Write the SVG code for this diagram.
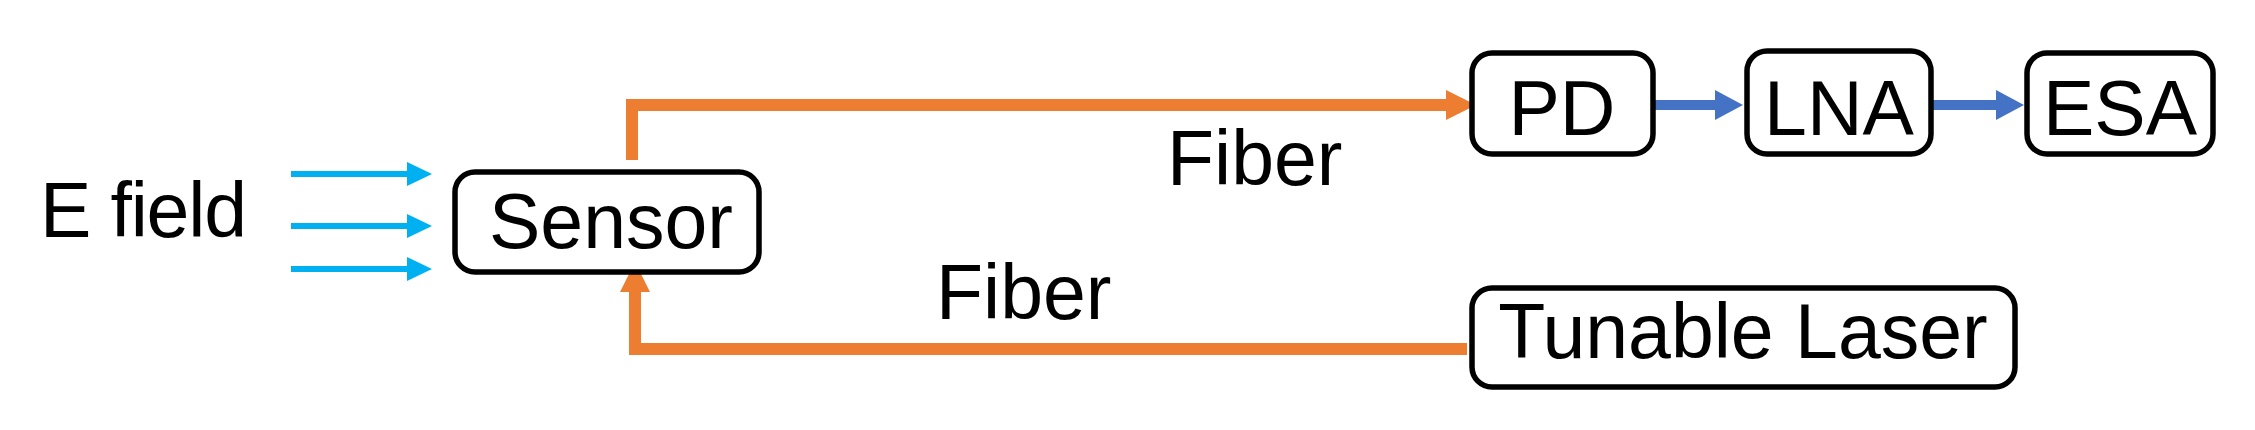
<svg xmlns="http://www.w3.org/2000/svg" width="2255" height="430" viewBox="0 0 2255 430">
<style>
.box{fill:#fff;stroke:#000;stroke-width:5.5}
.t{font-family:"Liberation Sans",Arial,sans-serif;font-size:77px;fill:#000}
.or{fill:none;stroke:#ED7D31;stroke-width:12}
.bl{fill:none;stroke:#4472C4;stroke-width:10}
.cy{fill:none;stroke:#00B0F0;stroke-width:6}
</style>
<defs>
<marker id="ao" markerUnits="userSpaceOnUse" markerWidth="30" markerHeight="30" refX="15" refY="15" orient="auto"><path d="M0,0 L30,15 L0,30 z" fill="#ED7D31"/></marker>
<marker id="ab" markerUnits="userSpaceOnUse" markerWidth="28" markerHeight="30" refX="14" refY="15" orient="auto"><path d="M0,0 L28,15 L0,30 z" fill="#4472C4"/></marker>
<marker id="ac" markerUnits="userSpaceOnUse" markerWidth="25" markerHeight="24" refX="12" refY="12" orient="auto"><path d="M0,0 L25,12 L0,24 z" fill="#00B0F0"/></marker>
</defs>
<rect width="2255" height="430" fill="#fff"/>
<g id="connectors">
<path class="cy" d="M291,174 H419" marker-end="url(#ac)"/>
<path class="cy" d="M291,226 H419" marker-end="url(#ac)"/>
<path class="cy" d="M291,269 H419" marker-end="url(#ac)"/>
<path class="or" d="M632,160 V105 H1461" marker-end="url(#ao)"/>
<path class="or" d="M1467,349 H635 V277" marker-end="url(#ao)"/>
<path class="bl" d="M1654,105 H1729" marker-end="url(#ab)"/>
<path class="bl" d="M1932,105 H2010" marker-end="url(#ab)"/>
<text class="t" x="1167" y="185">Fiber</text>
<text class="t" x="936" y="319">Fiber</text>
</g>
<g id="efield"><text class="t" x="40" y="237" textLength="207">E field</text></g>
<g id="sensor"><rect class="box" x="455" y="172" width="304" height="100" rx="20"/><text class="t" x="611" y="248" text-anchor="middle">Sensor</text></g>
<g id="pd"><rect class="box" x="1472" y="53" width="181" height="101" rx="20"/><text class="t" x="1562" y="135" text-anchor="middle">PD</text></g>
<g id="lna"><rect class="box" x="1747" y="51" width="184" height="103" rx="20"/><text class="t" x="1839" y="135" text-anchor="middle">LNA</text></g>
<g id="esa"><rect class="box" x="2027" y="53" width="186" height="101" rx="20"/><text class="t" x="2120" y="135" text-anchor="middle">ESA</text></g>
<g id="laser"><rect class="box" x="1472" y="288" width="543" height="99" rx="20"/><text class="t" x="1743" y="358" text-anchor="middle">Tunable Laser</text></g>
</svg>
